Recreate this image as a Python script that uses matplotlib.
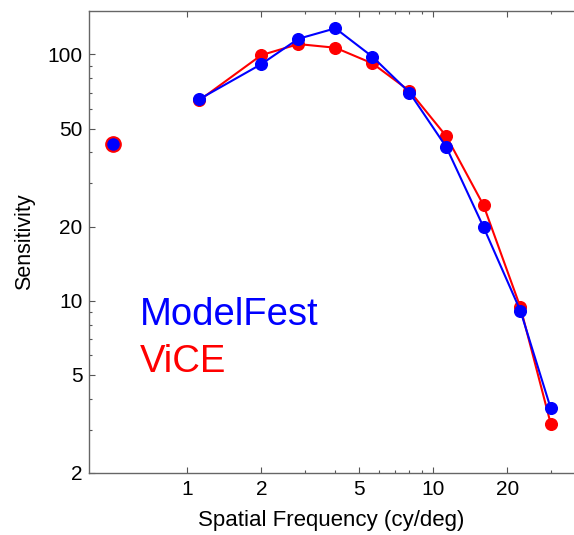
import matplotlib
matplotlib.use("Agg")
import matplotlib.pyplot as plt
import numpy as np
from matplotlib.ticker import FixedLocator, NullFormatter, FixedFormatter

plt.rcParams["font.family"] = ["Liberation Sans", "DejaVu Sans"]

# spatial frequencies (cy/deg)
freq = [1.12, 2.0, 2.83, 4.0, 5.66, 8.0, 11.3, 16.0, 22.6, 30.0]
modelfest = [65.8, 91.3, 115.7, 127.6, 97.8, 70.0, 42.0, 19.9, 9.1, 3.66]
vice = [65.1, 99.3, 110.1, 106.4, 91.9, 71.1, 46.5, 24.4, 9.4, 3.17]

# lone point at low frequency
lone_freq = [0.5]
lone_modelfest = [43.4]
lone_vice = [43.4]

xticks_major = [1, 2, 5, 10, 20]
xticks_minor = [3, 4, 6, 7, 8, 9, 30]
yticks_major = [2, 5, 10, 20, 50, 100]
yticks_minor = [3, 4, 6, 7, 8, 9, 30, 40, 60, 70, 80, 90]

blue = "#0000ff"
red = "#ff0000"

fig = plt.figure(figsize=(5.74, 5.35), dpi=100)
ax = fig.add_axes([89.3 / 574, 1 - 473 / 535, 1 - 89.3 / 574, (473 - 11) / 535])

ax.plot(freq, vice, "-o", color=red, lw=1.5, ms=8.4, zorder=3)
ax.plot(freq, modelfest, "-o", color=blue, lw=1.5, ms=8.4, zorder=4)
ax.plot(lone_freq, lone_vice, "o", color=red, ms=11, zorder=3)
ax.plot(lone_freq, lone_modelfest, "o", color=blue, ms=8, zorder=4)

ax.set_xscale("log")
ax.set_yscale("log")
ax.set_xlim(0.4, 37.3)
ax.set_ylim(2, 150)

ax.xaxis.set_major_locator(FixedLocator(xticks_major))
ax.xaxis.set_major_formatter(FixedFormatter([str(t) for t in xticks_major]))
ax.xaxis.set_minor_locator(FixedLocator(xticks_minor))
ax.xaxis.set_minor_formatter(NullFormatter())
ax.yaxis.set_major_locator(FixedLocator(yticks_major))
ax.yaxis.set_major_formatter(FixedFormatter([str(t) for t in yticks_major]))
ax.yaxis.set_minor_locator(FixedLocator(yticks_minor))
ax.yaxis.set_minor_formatter(NullFormatter())

ax.tick_params(which="both", direction="in", top=True, right=False,
               color="#555555", labelsize=15, width=0.8)
ax.tick_params(which="major", length=4.5, pad=5)
ax.tick_params(which="minor", length=2.5)
for s in ["left", "top", "bottom"]:
    ax.spines[s].set_color("#666666")
    ax.spines[s].set_linewidth(1.0)
ax.spines["right"].set_visible(False)

ax.set_xlabel("Spatial Frequency (cy/deg)", fontsize=16, labelpad=8)
ax.set_ylabel("Sensitivity", fontsize=15.5, labelpad=9)

ax.text(0.1046, 0.3203, "ModelFest", color=blue, fontsize=27.5,
        transform=ax.transAxes, va="baseline", ha="left")
ax.text(0.1046, 0.2193, "ViCE", color=red, fontsize=27.5,
        transform=ax.transAxes, va="baseline", ha="left")

fig.savefig("out.png", dpi=100)
